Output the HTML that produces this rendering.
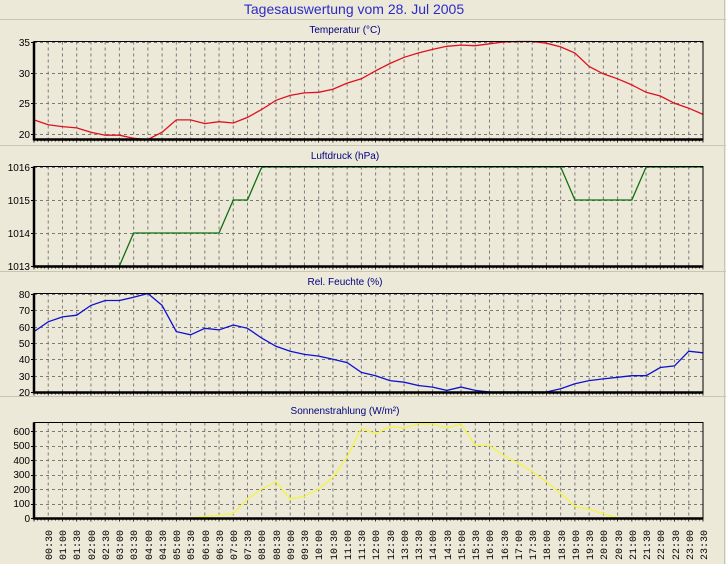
<!DOCTYPE html>
<html><head><meta charset="utf-8"><style>
html,body{margin:0;padding:0;background:#ece9d8;}
svg{display:block;font-family:"Liberation Sans",Arial,sans-serif;}
</style></head><body>
<svg id="s" width="726" height="564" viewBox="0 0 726 564" xmlns="http://www.w3.org/2000/svg">
<rect width="726" height="564" fill="#ece9d8"/>
<line x1="0" y1="19.5" x2="726" y2="19.5" stroke="#c8c5b5"/>
<line x1="0" y1="145.5" x2="726" y2="145.5" stroke="#c8c5b5"/>
<line x1="0" y1="271.5" x2="726" y2="271.5" stroke="#c8c5b5"/>
<line x1="0" y1="396.5" x2="726" y2="396.5" stroke="#c8c5b5"/>
<line x1="724.5" y1="0" x2="724.5" y2="564" stroke="#c8c5b5"/>
<text x="354" y="14" font-size="14" fill="#2b2bc8" text-anchor="middle">Tagesauswertung vom 28. Jul 2005</text>
<g font-size="10" fill="#000080" text-anchor="middle">
<text x="345" y="33">Temperatur (°C)</text>
<text x="345" y="159">Luftdruck (hPa)</text>
<text x="345" y="285">Rel. Feuchte (%)</text>
<text x="345" y="414">Sonnenstrahlung (W/m²)</text>
</g>
<g font-size="10" fill="#000" text-anchor="end">
<text x="30" y="46">35</text><text x="30" y="77">30</text><text x="30" y="107">25</text><text x="30" y="138">20</text>
<text x="30" y="171">1016</text><text x="30" y="204">1015</text><text x="30" y="237">1014</text><text x="30" y="270">1013</text>
<text x="30" y="298">80</text><text x="30" y="314">70</text><text x="30" y="331">60</text><text x="30" y="347">50</text><text x="30" y="363">40</text><text x="30" y="380">30</text><text x="30" y="396">20</text>
<text x="30" y="435">600</text><text x="30" y="449">500</text><text x="30" y="464">400</text><text x="30" y="478">300</text><text x="30" y="493">200</text><text x="30" y="507">100</text><text x="30" y="522">0</text>
</g>
<g id="xl" font-size="10" fill="#000" font-family="Liberation Mono,monospace">
<text transform="translate(52,560) rotate(-90)">00:30</text>
<text transform="translate(66,560) rotate(-90)">01:00</text>
<text transform="translate(80,560) rotate(-90)">01:30</text>
<text transform="translate(95,560) rotate(-90)">02:00</text>
<text transform="translate(109,560) rotate(-90)">02:30</text>
<text transform="translate(123,560) rotate(-90)">03:00</text>
<text transform="translate(137,560) rotate(-90)">03:30</text>
<text transform="translate(152,560) rotate(-90)">04:00</text>
<text transform="translate(166,560) rotate(-90)">04:30</text>
<text transform="translate(180,560) rotate(-90)">05:00</text>
<text transform="translate(194,560) rotate(-90)">05:30</text>
<text transform="translate(209,560) rotate(-90)">06:00</text>
<text transform="translate(223,560) rotate(-90)">06:30</text>
<text transform="translate(237,560) rotate(-90)">07:00</text>
<text transform="translate(251,560) rotate(-90)">07:30</text>
<text transform="translate(265,560) rotate(-90)">08:00</text>
<text transform="translate(280,560) rotate(-90)">08:30</text>
<text transform="translate(294,560) rotate(-90)">09:00</text>
<text transform="translate(308,560) rotate(-90)">09:30</text>
<text transform="translate(322,560) rotate(-90)">10:00</text>
<text transform="translate(337,560) rotate(-90)">10:30</text>
<text transform="translate(351,560) rotate(-90)">11:00</text>
<text transform="translate(365,560) rotate(-90)">11:30</text>
<text transform="translate(379,560) rotate(-90)">12:00</text>
<text transform="translate(394,560) rotate(-90)">12:30</text>
<text transform="translate(408,560) rotate(-90)">13:00</text>
<text transform="translate(422,560) rotate(-90)">13:30</text>
<text transform="translate(436,560) rotate(-90)">14:00</text>
<text transform="translate(451,560) rotate(-90)">14:30</text>
<text transform="translate(465,560) rotate(-90)">15:00</text>
<text transform="translate(479,560) rotate(-90)">15:30</text>
<text transform="translate(493,560) rotate(-90)">16:00</text>
<text transform="translate(508,560) rotate(-90)">16:30</text>
<text transform="translate(522,560) rotate(-90)">17:00</text>
<text transform="translate(536,560) rotate(-90)">17:30</text>
<text transform="translate(550,560) rotate(-90)">18:00</text>
<text transform="translate(565,560) rotate(-90)">18:30</text>
<text transform="translate(579,560) rotate(-90)">19:00</text>
<text transform="translate(593,560) rotate(-90)">19:30</text>
<text transform="translate(607,560) rotate(-90)">20:00</text>
<text transform="translate(622,560) rotate(-90)">20:30</text>
<text transform="translate(636,560) rotate(-90)">21:00</text>
<text transform="translate(650,560) rotate(-90)">21:30</text>
<text transform="translate(664,560) rotate(-90)">22:00</text>
<text transform="translate(679,560) rotate(-90)">22:30</text>
<text transform="translate(693,560) rotate(-90)">23:00</text>
<text transform="translate(707,560) rotate(-90)">23:30</text>
</g>
<g id="g"></g>
</svg>
<script>
var NS="http://www.w3.org/2000/svg",g=document.getElementById('g');
var L=34,R=703,dx=(R-L)/47;
function el(t,a){var e=document.createElementNS(NS,t);for(var k in a)e.setAttribute(k,a[k]);g.appendChild(e);return e;}
function X(i){return L+i*dx;}
var P=[
 {top:41.5,bot:139.5,y0:42,y1:134,v0:35,v1:20,ys:[35,30,25,20],col:"#e01020",
  d:[22.3,21.5,21.2,21.0,20.3,19.8,19.8,19.3,19.0,20.3,22.3,22.3,21.7,22.0,21.8,22.7,24,25.5,26.3,26.7,26.8,27.3,28.3,29,30.3,31.5,32.5,33.2,33.8,34.3,34.5,34.4,34.7,35,35.2,35.2,34.8,34.2,33.2,31,29.8,29,28,26.8,26.2,25,24.2,23.2]},
 {top:166.5,bot:266.5,y0:167,y1:266,v0:1016,v1:1013,ys:[1016,1015,1014,1013],col:"#107010",
  d:[1013,1013,1013,1013,1013,1013,1013,1014,1014,1014,1014,1014,1014,1014,1015,1015,1016,1016,1016,1016,1016,1016,1016,1016,1016,1016,1016,1016,1016,1016,1016,1016,1016,1016,1016,1016,1016,1016,1015,1015,1015,1015,1015,1016,1016,1016,1016,1016]},
 {top:293.5,bot:392.5,y0:294,y1:392,v0:80,v1:20,ys:[80,70,60,50,40,30,20],col:"#1010d0",
  d:[57,63,66,67,73,76,76,78,81,73,57,55,59,58,61,59,53,48,45,43,42,40,38,32,30,27,26,24,23,21,23,21,20,20,20,20,20,22,25,27,28,29,30,30,35,36,45,44]},
 {top:422.5,bot:518.5,y0:431,y1:518,v0:600,v1:0,ys:[600,500,400,300,200,100,0],col:"#f4f440",
  d:[0,0,0,0,0,0,0,0,0,0,0,0,10,20,30,130,200,250,130,150,200,280,420,620,580,630,620,650,650,620,650,500,500,430,380,320,250,170,80,60,30,0,0,0,0,0,0,0]}
];
P.forEach(function(p){
 var Y=function(v){return p.y0+(v-p.v0)*(p.y1-p.y0)/(p.v1-p.v0);};
 el('rect',{x:L,y:p.top,width:R-L,height:p.bot-p.top,fill:"#ece9d8"});
 for(var i=1;i<47;i++)el('line',{x1:X(i),y1:p.top,x2:X(i),y2:p.bot,stroke:"#7a7a7a","stroke-dasharray":"3,3","stroke-width":1});
 p.ys.forEach(function(v){var y=Math.round(Y(v))+.5;el('line',{x1:L,y1:y,x2:R,y2:y,stroke:"#7a7a7a","stroke-dasharray":"3,3"});el('line',{x1:L-3,y1:y,x2:L,y2:y,stroke:"#000"});});
 for(var i=0;i<=47*4;i++){var x=L+i*dx/4;el('line',{x1:x,y1:p.bot,x2:x,y2:p.bot+(i%4?2:3),stroke:"#000","stroke-width":.8});}
 var pts=p.d.map(function(v,i){var y=Y(v);y=Math.max(p.top,Math.min(p.bot,y));return X(i).toFixed(1)+","+y.toFixed(1);}).join(" ");
 el('polyline',{points:pts,fill:"none",stroke:p.col,"stroke-width":1.3});
 el('rect',{x:L,y:p.top,width:R-L,height:p.bot-p.top,fill:"none",stroke:"#000","stroke-width":1});
 el('line',{x1:L,y1:p.top,x2:L,y2:p.bot+1,stroke:"#000","stroke-width":2.5});
 el('line',{x1:L,y1:p.bot,x2:R,y2:p.bot,stroke:"#000","stroke-width":2.5});
});
</script>
</body></html>
